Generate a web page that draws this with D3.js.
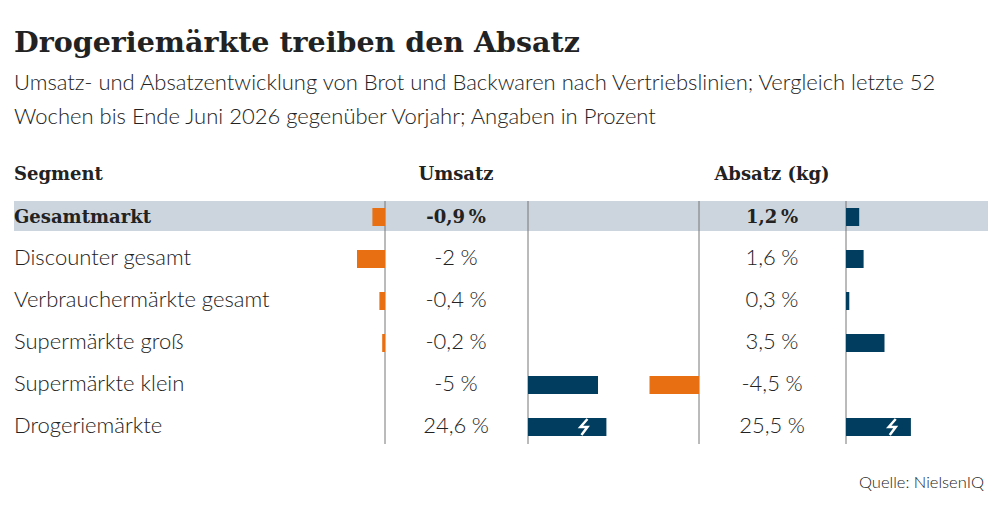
<!DOCTYPE html>
<html><head><meta charset="utf-8">
<script src="https://cdn.jsdelivr.net/npm/d3@7"></script>
<style>
body{margin:0;background:#fff;}
</style></head>
<body><svg id="chart" width="1000" height="512"></svg>
<script>
// data
let segments = ["Gesamtmarkt", "Discounter gesamt", "Verbrauchermärkte gesamt", "Supermärkte groß", "Supermärkte klein", "Drogeriemärkte"];
let umsatz = [-0.9, -2, -0.4, -0.2, -5, 24.6];
let absatz = [1.2, 1.6, 0.3, 3.5, -4.5, 25.5];
// the published chart draws this bar on the opposite side
let umsatzFlipped = [false, false, false, false, true, false];
let umsatzBreak = 5.6, absatzBreak = 5.9; // bars above these get truncated with a break mark

let svg = d3.select("#chart");
let serif = "'DejaVu Serif', serif";
let sans = "Lato, sans-serif";
let orange = "#e87012", blue = "#003d5e", ink = "#222";

svg.append("text").attr("x", 14).attr("y", 52).text("Drogeriemärkte treiben den Absatz")
    .attr("font-family", serif).attr("font-weight", 700).attr("font-size", 28.5).attr("fill", ink);
let sub = ["Umsatz- und Absatzentwicklung von Brot und Backwaren nach Vertriebslinien; Vergleich letzte 52",
           "Wochen bis Ende Juni 2026 gegenüber Vorjahr; Angaben in Prozent"];
sub.forEach((s, i) => svg.append("text").attr("x", 14).attr("y", 90 + i * 34).text(s)
    .attr("font-family", sans).attr("font-weight", 300).attr("font-size", 22).attr("fill", ink));

let y = d3.scaleBand().domain(segments).range([195, 447]).paddingInner(0);
let uScale = d3.scaleLinear().domain([0, 1]).range([0, 14]);
let aScale = d3.scaleLinear().domain([0, 1]).range([0, 11]);
let axes = [385, 528, 699, 846];

// highlight row
svg.append("rect").attr("x", 14).attr("width", 974).attr("y", y(segments[0]) + 6).attr("height", 30).attr("fill", "#ccd5dd");

// headers
let hdr = [["Segment", 14, "start"], ["Umsatz", 456, "middle"], ["Absatz (kg)", 772, "middle"]];
hdr.forEach(h => svg.append("text").attr("x", h[1]).attr("y", 180).attr("text-anchor", h[2]).text(h[0])
    .attr("font-family", serif).attr("font-weight", 700).attr("font-size", 18).attr("fill", ink));

axes.forEach(x => svg.append("line").attr("x1", x).attr("x2", x).attr("y1", y(segments[0]) + 6).attr("y2", 444)
    .attr("stroke", "#777").attr("stroke-width", 1));

let fmt = v => d3.format(".1~f")(v).replace("\u2212", "-").replace(".", ",") + "\u202F%";

let drawBar = function (v, axisLeft, axisRight, scale, cap, rowY, flipped) {
    let w = scale(Math.min(Math.abs(v), cap));
    let neg = v < 0;
    let x, color;
    if (flipped) { x = axisRight; color = blue; }
    else if (neg) { x = axisLeft - w; color = orange; }
    else { x = axisRight; color = blue; }
    svg.append("rect").attr("x", x).attr("y", rowY + 13).attr("width", w).attr("height", 18).attr("fill", color);
    if (Math.abs(v) > cap) {
        let bx = x + w * 0.72, by = rowY + 13;
        svg.append("path").attr("d", `M${bx + 3},${by + 1} L${bx - 4},${by + 9} L${bx + 3},${by + 9} L${bx - 3},${by + 17}`)
            .attr("fill", "none").attr("stroke", "#fff").attr("stroke-width", 2.5);
    }
};

segments.forEach((s, i) => {
    let ry = y(s), bold = i === 0;
    let t = (x, txt, anchor) => svg.append("text").attr("x", x).attr("y", ry + 28).attr("text-anchor", anchor).text(txt)
        .attr("font-family", bold ? serif : sans).attr("font-weight", bold ? 700 : 300)
        .attr("font-size", bold ? 18 : 22).attr("fill", ink);
    t(14, s, "start");
    t(456, fmt(umsatz[i]), "middle");
    t(772, fmt(absatz[i]), "middle");
    drawBar(umsatz[i], 385, 528, uScale, umsatzBreak, ry, umsatzFlipped[i]);
    drawBar(absatz[i], 699, 846, aScale, absatzBreak, ry, false);
});

svg.append("text").attr("x", 984).attr("y", 488).attr("text-anchor", "end").text("Quelle: NielsenIQ")
    .attr("font-family", sans).attr("font-weight", 300).attr("font-size", 16.5).attr("fill", ink);
</script></body></html>
